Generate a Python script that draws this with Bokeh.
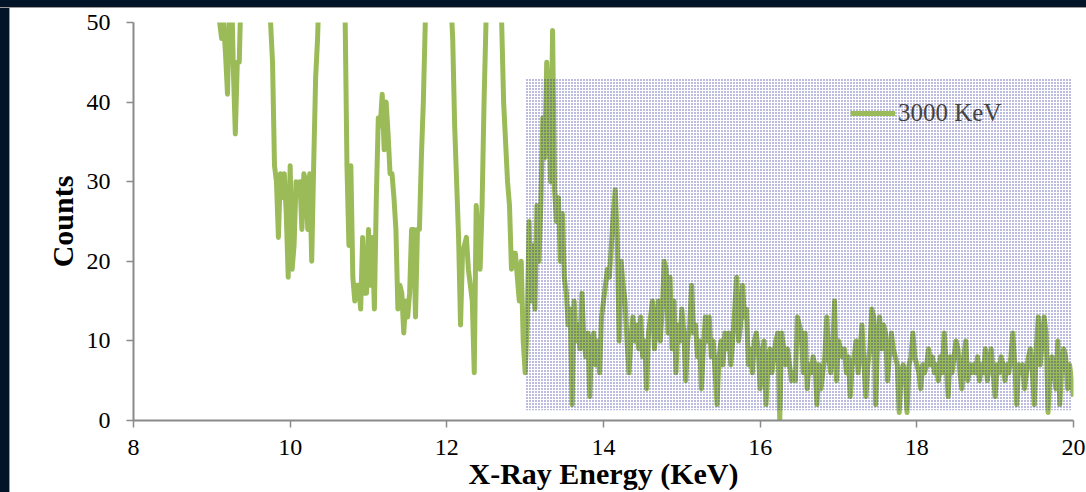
import numpy as np
from bokeh.plotting import figure
from bokeh.models import Range1d, Legend, LegendItem, ColumnDataSource
from bokeh.embed import file_html
from bokeh.resources import INLINE

# ---------------- data ----------------
series_label = "3000 KeV"
x_title = "X-Ray Energy (KeV)"
y_title = "Counts"
x_ticks = [8, 10, 12, 14, 16, 18, 20]
y_ticks = [0, 10, 20, 30, 40, 50]

channel_step = 0.025  # keV between samples

# counts per 1-keV block, each block starts at the energy given in block_starts
counts_09 = [70, 65, 60, 55, 50, 48, 50, 46, 41, 52,
             55, 44, 36, 45, 45, 55, 65, 68, 75, 80,
             85, 90, 85, 80, 78, 72, 68, 62, 58, 55,
             50, 45, 32, 30, 23, 31, 28, 31, 26, 18]
counts_10 = [32, 19, 22, 30, 29, 30, 24, 31, 30, 24,
             31, 20, 32, 43, 48, 56, 62, 70, 78, 85,
             88, 86, 80, 75, 70, 66, 60, 55, 52, 32,
             22, 32, 18, 15, 17, 17, 14, 23, 16, 16]
counts_11 = [24, 17, 23, 14, 28, 38, 37, 41, 34, 40,
             36, 31, 31, 28, 24, 14, 17, 16, 11, 15,
             13, 16, 24, 24, 13, 24, 24, 33, 40, 50,
             58, 66, 74, 82, 90, 95, 92, 86, 78, 70]
counts_12 = [64, 58, 53, 48, 37, 30, 23, 12, 21, 22,
             23, 19, 17, 15, 6, 27, 23, 19, 27, 40,
             50, 58, 68, 78, 80, 72, 62, 55, 50, 40,
             35, 30, 27, 19, 21, 21, 18, 15, 20, 10]
counts_13 = [6, 12, 25, 15, 22, 14, 27, 20, 27, 38,
             33, 45, 40, 30, 49, 29, 25, 28, 20, 26,
             18, 16, 12, 14, 2, 15, 10, 12, 9, 16,
             10, 8, 11, 3, 10, 11, 7, 10, 6, 13]
counts_14 = [15, 17, 19, 18, 22, 26, 29, 23, 10, 20,
             17, 15, 10, 6, 10, 13, 10, 12, 9, 13,
             8, 10, 4, 11, 13, 15, 9, 12, 15, 10,
             14, 20, 19, 11, 18, 9, 15, 6, 12, 10]
counts_15 = [14, 11, 5, 10, 12, 17, 11, 12, 8, 10,
             4, 9, 13, 10, 13, 8, 10, 6, 2, 8,
             10, 7, 11, 9, 11, 7, 10, 14, 18, 10,
             12, 17, 13, 14, 7, 9, 6, 10, 11, 9]
counts_16 = [4, 8, 10, 2, 7, 9, 6, 8, 10, 11,
             0, 11, 9, 7, 9, 7, 5, 6, 5, 13,
             12, 11, 6, 11, 4, 7, 6, 8, 7, 2,
             7, 4, 6, 8, 13, 8, 6, 9, 15, 5]
counts_17 = [10, 9, 8, 9, 6, 8, 3, 7, 8, 10,
             6, 9, 12, 7, 3, 7, 9, 14, 13, 2,
             10, 13, 9, 12, 11, 5, 8, 11, 9, 8,
             7, 1, 6, 7, 6, 1, 7, 8, 11, 8]
counts_18 = [7, 6, 4, 7, 6, 7, 9, 7, 8, 6,
             7, 5, 8, 6, 11, 7, 3, 8, 6, 8,
             10, 9, 6, 4, 8, 10, 5, 7, 6, 7,
             6, 8, 5, 7, 6, 9, 5, 7, 9, 6]
counts_19 = [3, 7, 6, 8, 7, 5, 7, 6, 8, 11,
             7, 2, 7, 6, 7, 4, 6, 8, 9, 6,
             2, 9, 13, 7, 10, 13, 11, 1, 6, 8,
             6, 4, 10, 2, 7, 9, 8, 4, 7, 5]
block_starts = [9.0, 10.0, 11.0, 12.0, 13.0, 14.0, 15.0, 16.0, 17.0, 18.0, 19.0]
final_energy = 20.0
final_count = 3

# shaded region of interest
region_energy = [13.0, 19.97]
region_counts = [1.3, 43.0]

# ---------------- build series ----------------
blocks = [counts_09, counts_10, counts_11, counts_12, counts_13, counts_14,
          counts_15, counts_16, counts_17, counts_18, counts_19]
energy, counts = [], []
for start, blk in zip(block_starts, blocks):
    for i, c in enumerate(blk):
        energy.append(start + i * channel_step)
        counts.append(c)
energy.append(final_energy)
counts.append(final_count)
src = ColumnDataSource(dict(x=energy, y=counts))

SERIF = "Liberation Serif"

p = figure(width=1086, height=492,
           x_range=Range1d(x_ticks[0], x_ticks[-1]),
           y_range=Range1d(y_ticks[0], y_ticks[-1]),
           output_backend="svg", toolbar_location=None,
           min_border_left=133, min_border_right=13,
           min_border_top=22, min_border_bottom=72)
p.border_fill_color = None
p.background_fill_color = "white"
p.outline_line_color = None
p.grid.visible = False

for ax in (p.xaxis, p.yaxis):
    ax.axis_line_color = "#8a8a8a"
    ax.axis_line_width = 2
    ax.major_tick_line_color = "#8a8a8a"
    ax.major_tick_line_width = 1.5
    ax.major_tick_in = 0
    ax.major_tick_out = 7
    ax.minor_tick_line_color = None
    ax.major_label_text_font = SERIF
    ax.major_label_text_font_size = "24px"
    ax.major_label_text_color = "black"
    ax.axis_label_text_font = SERIF
    ax.axis_label_text_font_style = "bold"
    ax.axis_label_text_font_size = "30px"
    ax.axis_label_text_color = "black"

p.xaxis.ticker = x_ticks
p.yaxis.ticker = y_ticks
p.xaxis.axis_label = x_title
p.yaxis.axis_label = y_title
p.xaxis.major_label_standoff = 12
p.xaxis.axis_label_standoff = -1
p.yaxis.major_label_standoff = 16
p.yaxis.axis_label_standoff = 5

line = p.line("x", "y", source=src, line_color="#9BBB59", line_width=5,
              line_join="round")

p.quad(left=[region_energy[0]], right=[region_energy[1]],
       bottom=[region_counts[0]], top=[region_counts[1]],
       fill_alpha=0, line_alpha=0,
       hatch_pattern="dot", hatch_color="#22229a", hatch_scale=3,
       hatch_weight=1, hatch_alpha=0.75)

legend = Legend(items=[LegendItem(label=series_label, renderers=[line])],
                location=(717, 293), border_line_alpha=0,
                background_fill_alpha=0, padding=0, margin=0,
                glyph_width=45, glyph_height=20, label_standoff=3,
                label_text_font=SERIF, label_text_font_size="25px",
                label_height=20)
p.add_layout(legend)

html = file_html(p, INLINE, title="X-Ray Energy spectrum")
style = ("<style>html{background:"
         "linear-gradient(to bottom,#011428 0,#011428 7px,#9a9a9a 7px,#9a9a9a 8px,rgba(0,0,0,0) 8px),"
         "linear-gradient(to right,#011428 0,#011428 9px,#9a9a9a 9px,#9a9a9a 10px,rgba(0,0,0,0) 10px),"
         "#ffffff;}</style>")
html = html.replace("</head>", style + "</head>", 1)
open("out.html", "w").write(html)
